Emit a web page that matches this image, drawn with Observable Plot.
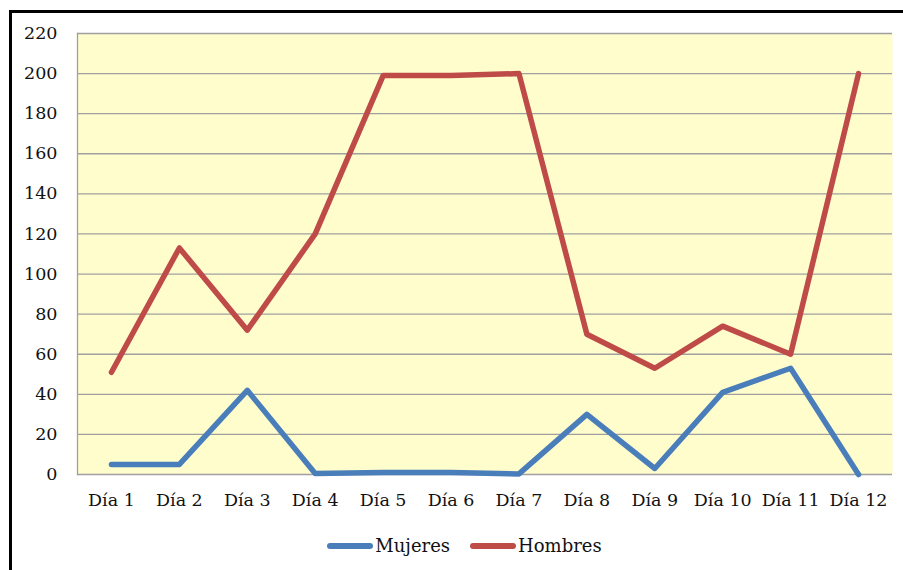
<!DOCTYPE html>
<html>
<head>
<meta charset="utf-8">
<script src="https://cdn.jsdelivr.net/npm/d3@7"></script>
<script src="https://cdn.jsdelivr.net/npm/@observablehq/plot@0.6"></script>
<style>
  html, body { margin: 0; padding: 0; background: #fff; }
  #wrap { position: relative; width: 903px; height: 570px; overflow: hidden; font-family: "DejaVu Serif", serif; }
  #border { position: absolute; left: 9px; top: 10px; width: 1000px; height: 1000px; border-left: 3px solid #000; border-top: 3px solid #000; box-sizing: border-box; }
  #chart { position: absolute; left: 0; top: 0; }
  #legend { position: absolute; top: 535px; left: 13px; width: 903px; display: flex; justify-content: center; font-size: 18px; color: #111; }
  .item { display: flex; align-items: center; margin: 0 10px; }
  .item svg { margin-right: 2px; }
</style>
</head>
<body>
<div id="wrap">
  <div id="border"></div>
  <div id="chart"></div>
  <div id="legend"></div>
</div>
<script>
const days = ["Día 1","Día 2","Día 3","Día 4","Día 5","Día 6","Día 7","Día 8","Día 9","Día 10","Día 11","Día 12"];
const mujeres = [5, 5, 42, 0.5, 1, 1, 0.3, 30, 3, 41, 53, 0];
const hombres = [51, 113, 72, 120, 199, 199, 200, 70, 53, 74, 60, 200];
const seriesNames = ["Mujeres", "Hombres"];
const seriesColors = ["#4A7EBB", "#BE4B48"];
const yTicks = [0, 20, 40, 60, 80, 100, 120, 140, 160, 180, 200, 220];

const rows = [];
days.forEach((d, i) => rows.push({day: d, value: mujeres[i], serie: seriesNames[0]}));
days.forEach((d, i) => rows.push({day: d, value: hombres[i], serie: seriesNames[1]}));

const chart = Plot.plot({
  width: 903,
  height: 520,
  marginTop: 33,
  marginBottom: 46,
  marginLeft: 77,
  marginRight: 11,
  style: {fontFamily: "DejaVu Serif, serif", fontSize: "17.5px", color: "#111", background: "transparent"},
  x: {type: "point", domain: days, padding: 0.5, round: false, label: null},
  y: {domain: [0, 220], label: null},
  color: {domain: seriesNames, range: seriesColors},
  marks: [
    Plot.frame({fill: "#FFFDCC", stroke: "none"}),
    Plot.ruleY(yTicks, {stroke: "#A0A0A0", strokeWidth: 1.3}),
    Plot.frame({anchor: "left", stroke: "#A0A0A0", strokeWidth: 1.3}),
    Plot.axisY(yTicks, {tickSize: 0, tickPadding: 20, label: null, fontSize: 17.5}),
    Plot.axisX({tickSize: 0, tickPadding: 19, label: null, fontSize: 17.5}),
    Plot.line(rows, {x: "day", y: "value", z: "serie", stroke: "serie", strokeWidth: 5.5, strokeLinecap: "round", strokeLinejoin: "round"})
  ]
});
document.getElementById("chart").appendChild(chart);

const legend = document.getElementById("legend");
seriesNames.forEach((name, i) => {
  const item = document.createElement("div");
  item.className = "item";
  item.innerHTML = `<svg width="46" height="10"><line x1="3" y1="5" x2="43" y2="5" stroke="${seriesColors[i]}" stroke-width="6" stroke-linecap="round"/></svg><span>${name}</span>`;
  legend.appendChild(item);
});
</script>
</body>
</html>
